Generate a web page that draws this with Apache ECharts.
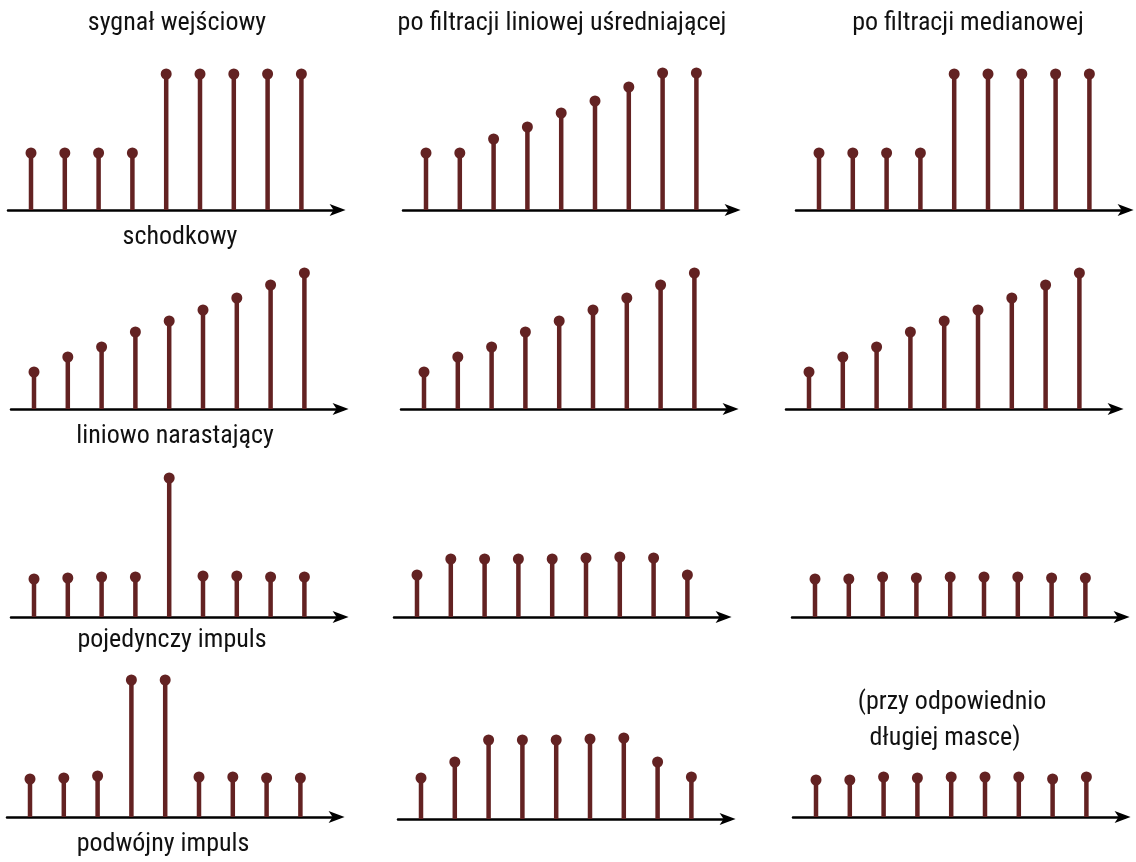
<!DOCTYPE html>
<html>
<head>
<meta charset="utf-8">
<script src="https://cdn.jsdelivr.net/npm/echarts@6/dist/echarts.min.js"></script>
<style>
  html, body { margin: 0; padding: 0; background: #fff; }
  #chart { width: 1136px; height: 862px; }
</style>
</head>
<body>
<div id="chart"></div>
<script>
// sample index n = 0..8
const samples = [0, 1, 2, 3, 4, 5, 6, 7, 8]

// sygnał schodkowy
const stepInput  = [5.7, 5.7, 5.7, 5.7, 13.6, 13.6, 13.6, 13.6, 13.6]
const stepMean   = [5.7, 5.7, 7.1, 8.3, 9.7, 10.9, 12.3, 13.7, 13.7]
const stepMedian = [5.7, 5.7, 5.7, 5.7, 13.6, 13.6, 13.6, 13.6, 13.6]

// sygnał liniowo narastający
const rampInput  = [3.7, 5.2, 6.2, 7.7, 8.8, 9.9, 11.1, 12.4, 13.6]
const rampMean   = [3.7, 5.2, 6.2, 7.7, 8.8, 9.9, 11.1, 12.4, 13.6]
const rampMedian = [3.7, 5.2, 6.2, 7.7, 8.8, 9.9, 11.1, 12.4, 13.6]

// pojedynczy impuls
const impulseInput  = [3.8, 3.9, 4.0, 4.0, 13.9, 4.1, 4.1, 4.0, 4.0]
const impulseMean   = [4.2, 5.8, 5.8, 5.8, 5.8, 5.9, 6.0, 5.9, 4.2]
const impulseMedian = [3.8, 3.8, 4.0, 3.9, 4.0, 4.0, 4.0, 3.9, 3.9]

// podwójny impuls
const doubleInput  = [3.8, 3.9, 4.1, 13.7, 13.7, 4.0, 4.0, 3.9, 3.9]
const doubleMean   = [4.1, 5.7, 7.9, 7.9, 7.9, 8.0, 8.1, 5.7, 4.2]
const doubleMedian = [3.7, 3.7, 4.0, 3.9, 4.0, 4.0, 4.0, 3.8, 4.0]

const columnTitles = ['sygnał wejściowy', 'po filtracji liniowej uśredniającej', 'po filtracji medianowej']
const rowLabels = ['schodkowy', 'liniowo narastający', 'pojedynczy impuls', 'podwójny impuls']
const noteLines = ['(przy odpowiednio', 'długiej masce)']

const panelData = [
  [stepInput, stepMean, stepMedian],
  [rampInput, rampMean, rampMedian],
  [impulseInput, impulseMean, impulseMedian],
  [doubleInput, doubleMean, doubleMedian]
]

// layout: x of first stem per panel, axis baseline per panel
const firstStem = [
  [31, 426, 819],
  [34, 424, 809],
  [34, 417, 815],
  [30, 421, 816]
]
const baseline = [
  [210, 210, 210],
  [409, 409, 409],
  [617, 617, 617],
  [817, 819, 817]
]

const STEM = '#632222'
const FONT = "'Liberation Sans Narrow', 'Arial Narrow', 'Roboto Condensed', 'Liberation Sans', sans-serif"
const unit = 33.8
const xMin = -0.68
const xMax = 9.13
const yMax = 14
const plotH = 140

const grids = []
const xAxes = []
const yAxes = []
const series = []

panelData.forEach((row, r) => {
  row.forEach((values, c) => {
    const idx = grids.length
    grids.push({
      left: firstStem[r][c] + xMin * unit,
      top: baseline[r][c] - plotH,
      width: (xMax - xMin) * unit,
      height: plotH
    })
    xAxes.push({
      gridIndex: idx,
      type: 'value',
      min: xMin,
      max: xMax,
      axisLine: {
        show: true,
        symbol: ['none', 'arrow'],
        symbolSize: [9, 16],
        symbolOffset: [0, 6],
        lineStyle: { color: '#000', width: 2.5 }
      },
      axisTick: { show: false },
      axisLabel: { show: false },
      splitLine: { show: false }
    })
    yAxes.push({
      gridIndex: idx,
      type: 'value',
      min: 0,
      max: yMax,
      show: false
    })
    const pts = samples.map((n, i) => [n, values[i]])
    series.push({
      type: 'bar',
      xAxisIndex: idx,
      yAxisIndex: idx,
      barWidth: 4.5,
      itemStyle: { color: STEM },
      silent: true,
      data: pts
    })
    series.push({
      type: 'scatter',
      xAxisIndex: idx,
      yAxisIndex: idx,
      symbolSize: 11,
      itemStyle: { color: STEM, opacity: 1 },
      silent: true,
      data: pts
    })
  })
})

const textEl = (text, x, y) => ({
  type: 'text',
  x: x,
  y: y,
  style: {
    text: text,
    fill: '#111',
    font: '26px ' + FONT,
    align: 'center',
    verticalAlign: 'middle'
  }
})

const titleX = [177, 562, 968]
const labelPos = [[180, 237], [175, 436], [172, 640], [163, 844]]

const graphics = []
columnTitles.forEach((t, i) => graphics.push(textEl(t, titleX[i], 23)))
rowLabels.forEach((t, i) => graphics.push(textEl(t, labelPos[i][0], labelPos[i][1])))
graphics.push(textEl(noteLines[0], 952, 702))
graphics.push(textEl(noteLines[1], 945, 738))

const chart = echarts.init(document.getElementById('chart'))
chart.setOption({
  animation: false,
  backgroundColor: '#fff',
  grid: grids,
  xAxis: xAxes,
  yAxis: yAxes,
  series: series,
  graphic: graphics
})

window.addEventListener('resize', () => chart.resize())
</script>
</body>
</html>
